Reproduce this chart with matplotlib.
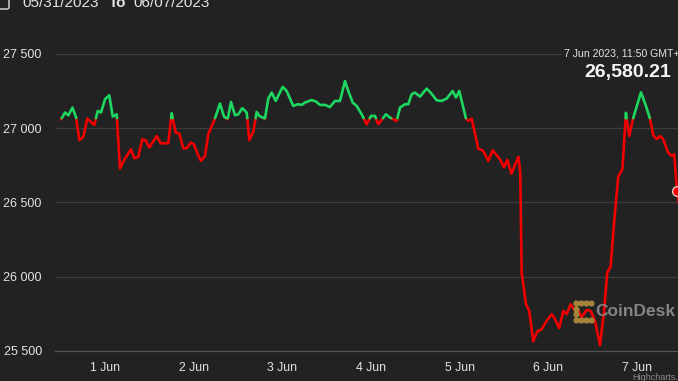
import numpy as np
import pandas as pd
import matplotlib
matplotlib.use("Agg")
import matplotlib.pyplot as plt
import matplotlib.dates as mdates
from matplotlib.patches import FancyBboxPatch

plt.rcParams['font.family'] = ['Liberation Sans', 'DejaVu Sans']

# ---- data (hours since 2023-06-01 00:00, BTC price in USD) ----
hours = [-12.0, -10.9, -10.0, -8.9, -7.9, -7.05, -5.96, -4.88, -2.98, -2.06, -1.17, -0.08,
         1.08, 2.01, 3.09, 3.98, 5.07, 6.96, 7.86, 8.94, 10.03, 10.95, 11.92, 13.93,
         15.01, 17.07, 17.99, 19.08, 20.05, 21.14, 22.06, 23.14, 24.03, 25.04, 25.93, 27.02,
         27.91, 29.73, 31.08, 32.16, 33.17, 34.06, 35.15, 36.04, 37.12, 38.32, 39.02, 40.10,
         41.03, 41.73, 43.27, 44.17, 45.09, 46.17, 48.07, 49.15, 50.94, 52.13, 53.22, 54.11,
         55.93, 57.09, 58.18, 59.53, 60.89, 62.24, 63.60, 64.95, 65.85, 67.04, 68.12, 69.48,
         70.83, 72.0, 73.08, 73.98, 76.06, 77.15, 78.96, 79.86, 81.21, 82.10, 83.03, 83.92,
         85.28, 87.09, 88.17, 89.80, 91.15, 92.51, 94.14, 95.03, 95.92, 97.74, 98.36, 99.28,
         101.07, 102.43, 103.78, 104.97, 106.95, 108.03, 108.93, 110.07, 111.96, 112.45, 112.83, 114.0,
         114.89, 115.97, 117.06, 118.25, 119.61, 120.96, 121.86, 123.02, 124.11, 125.03, 126.11, 127.0,
         128.01, 129.09, 130.45, 131.53, 132.70, 134.05, 135.13, 136.03, 136.95, 137.92, 139.01, 140.14,
         141.09, 141.99, 143.07, 145.16, 146.51, 147.60, 148.49, 149.41, 150.31, 151.20, 152.47, 153.47,
         154.18, 154.91, 155.8]
prices = [27060, 27106, 27087, 27139, 27072, 26921, 26941, 27065, 27022, 27116, 27106, 27195,
          27222, 27079, 27094, 26729, 26785, 26859, 26798, 26807, 26926, 26919, 26870, 26948,
          26899, 26899, 27101, 26971, 26964, 26865, 26865, 26904, 26892, 26825, 26780, 26814,
          26960, 27067, 27166, 27079, 27061, 27177, 27087, 27094, 27135, 27106, 26921, 26975,
          27110, 27083, 27065, 27200, 27240, 27184, 27278, 27251, 27150, 27162, 27157, 27173,
          27190, 27180, 27157, 27157, 27143, 27184, 27184, 27318, 27251, 27173, 27150, 27094,
          27027, 27083, 27083, 27027, 27094, 27072, 27049, 27139, 27162, 27162, 27229, 27240,
          27213, 27267, 27240, 27188, 27184, 27200, 27251, 27207, 27251, 27065, 27049, 27065,
          26863, 26847, 26780, 26852, 26791, 26736, 26787, 26694, 26808, 26702, 26029, 25815,
          25770, 25565, 25632, 25647, 25703, 25748, 25715, 25654, 25770, 25748, 25815, 25782,
          25782, 25726, 25777, 25770, 25703, 25540, 25760, 26029, 26069, 26376, 26675, 26724,
          27104, 26948, 27069, 27242, 27150, 27065, 26953, 26926, 26948, 26926, 26838, 26814,
          26825, 26580.21, 26440]
open_price = 27068
last_price = 26580.21
y_ticks = [25500, 26000, 26500, 27000, 27500]
y_tick_labels = ["25 500", "26 000", "26 500", "27 000", "27 500"]
x_tick_days = ["2023-06-01", "2023-06-02", "2023-06-03", "2023-06-04",
               "2023-06-05", "2023-06-06", "2023-06-07"]
x_tick_labels = ["1 Jun", "2 Jun", "3 Jun", "4 Jun", "5 Jun", "6 Jun", "7 Jun"]
date_from = "05/31/2023"
date_to = "06/07/2023"
tooltip_time = "7 Jun 2023, 11:50 GMT+1"
tooltip_value = "26,580.21"

BG = '#222222'
GREEN = '#1ed760'
RED = '#f00000'
TXT = '#e3e3e3'

base = pd.Timestamp('2023-06-01')
t = mdates.date2num((base + pd.to_timedelta(hours, unit='h')).to_pydatetime())
p = np.array(prices, dtype=float)

# insert threshold crossings so colours switch exactly at the open price
xs, ys = [t[0]], [p[0]]
for i in range(1, len(p)):
    a, b = p[i - 1] - open_price, p[i] - open_price
    if a * b < 0:
        f = a / (a - b)
        xs.append(t[i - 1] + f * (t[i] - t[i - 1]))
        ys.append(open_price)
    xs.append(t[i]); ys.append(p[i])
xs = np.array(xs); ys = np.array(ys)
above = np.where(ys >= open_price, ys, np.nan)
below = np.where(ys <= open_price, ys, np.nan)

W, H = 678, 381
fig = plt.figure(figsize=(W / 100, H / 100), dpi=100, facecolor=BG)
L, R, T, B = 55, 678, 20, 355
ax = fig.add_axes([L / W, (H - B) / H, (R - L) / W, (B - T) / H], facecolor=BG)

ppu = (351 - 54) / 2000.0
ax.set_ylim(25500 - (B - 351) / ppu, 27500 + (54 - T) / ppu)
x0 = mdates.date2num(base.to_pydatetime())
ax.set_xlim(x0 + (-13.63) / 24, x0 + 155.2 / 24)

for v in y_ticks:
    ax.axhline(v, color='#555555' if v == y_ticks[0] else '#3c3c3c', lw=0.9, zorder=1)

ax.plot(xs, below, color=RED, lw=1.9, solid_joinstyle='round', solid_capstyle='round', zorder=3)
ax.plot(xs, above, color=GREEN, lw=1.9, solid_joinstyle='round', solid_capstyle='round', zorder=3)
ax.plot([t[-2]], [last_price], 'o', ms=7, mfc=RED, mec='#f2c4c4', mew=1.0, zorder=4)

for s in ax.spines.values():
    s.set_visible(False)
ax.set_yticks(y_ticks)
ax.set_yticklabels(y_tick_labels)
xt = mdates.date2num(pd.to_datetime(x_tick_days).to_pydatetime())
ax.set_xticks(xt)
ax.set_xticklabels(x_tick_labels)
ax.tick_params(axis='y', length=0, pad=9.5, labelsize=9, labelcolor=TXT)
ax.tick_params(axis='x', length=0, pad=5, labelsize=8.8, labelcolor=TXT)

# header
fig.patches.append(FancyBboxPatch((-6 / W, (H - 9) / H), 15 / W, 20 / H,
                                  boxstyle="round,pad=0,rounding_size=0.004",
                                  transform=fig.transFigure, fill=False,
                                  ec='#cfcfcf', lw=1.1))
fig.text(22 / W, (H - 7) / H, date_from, color=TXT, fontsize=11, va='baseline', ha='left')
fig.text(109 / W, (H - 7) / H, "To", color=TXT, fontsize=11, fontweight='bold', va='baseline', ha='left')
fig.text(133 / W, (H - 7) / H, date_to, color=TXT, fontsize=11, va='baseline', ha='left')

# tooltip
fig.text(564 / W, (H - 53) / H, tooltip_time, color=TXT, fontsize=7.6, va='center', ha='left',
         bbox=dict(facecolor=BG, edgecolor='none', pad=1.5))
fig.text(671 / W, (H - 73) / H, tooltip_value, color='#f5f5f5', fontsize=14, fontweight='bold',
         va='center', ha='right')

# watermark
fig.text(595 / W, (H - 311) / H, "CoinDesk", color='#8f8f8f', fontsize=12.5, fontweight='bold',
         va='center', ha='left', alpha=0.9, zorder=5)
gold = '#8a6f2c'
ix = np.array([576, 581, 586, 591, 576, 576, 576, 581, 586, 591]) / W
iy = (H - np.array([303, 303, 303, 303, 309, 314, 320, 320, 320, 320])) / H
fig.lines.append(plt.Line2D(ix[[3, 0, 6, 9]], iy[[3, 0, 6, 9]], transform=fig.transFigure,
                            color=gold, lw=2.2, alpha=0.9))
fig.lines.append(plt.Line2D(ix, iy, transform=fig.transFigure, ls='none', marker='o', ms=3.5,
                            color='#a8883a', alpha=0.9))

fig.text(632 / W, (H - 377) / H, "Highcharts.com", color='#8a8a8a', fontsize=6.5, va='center', ha='left')

fig.savefig('out.png', dpi=100, facecolor=BG)
